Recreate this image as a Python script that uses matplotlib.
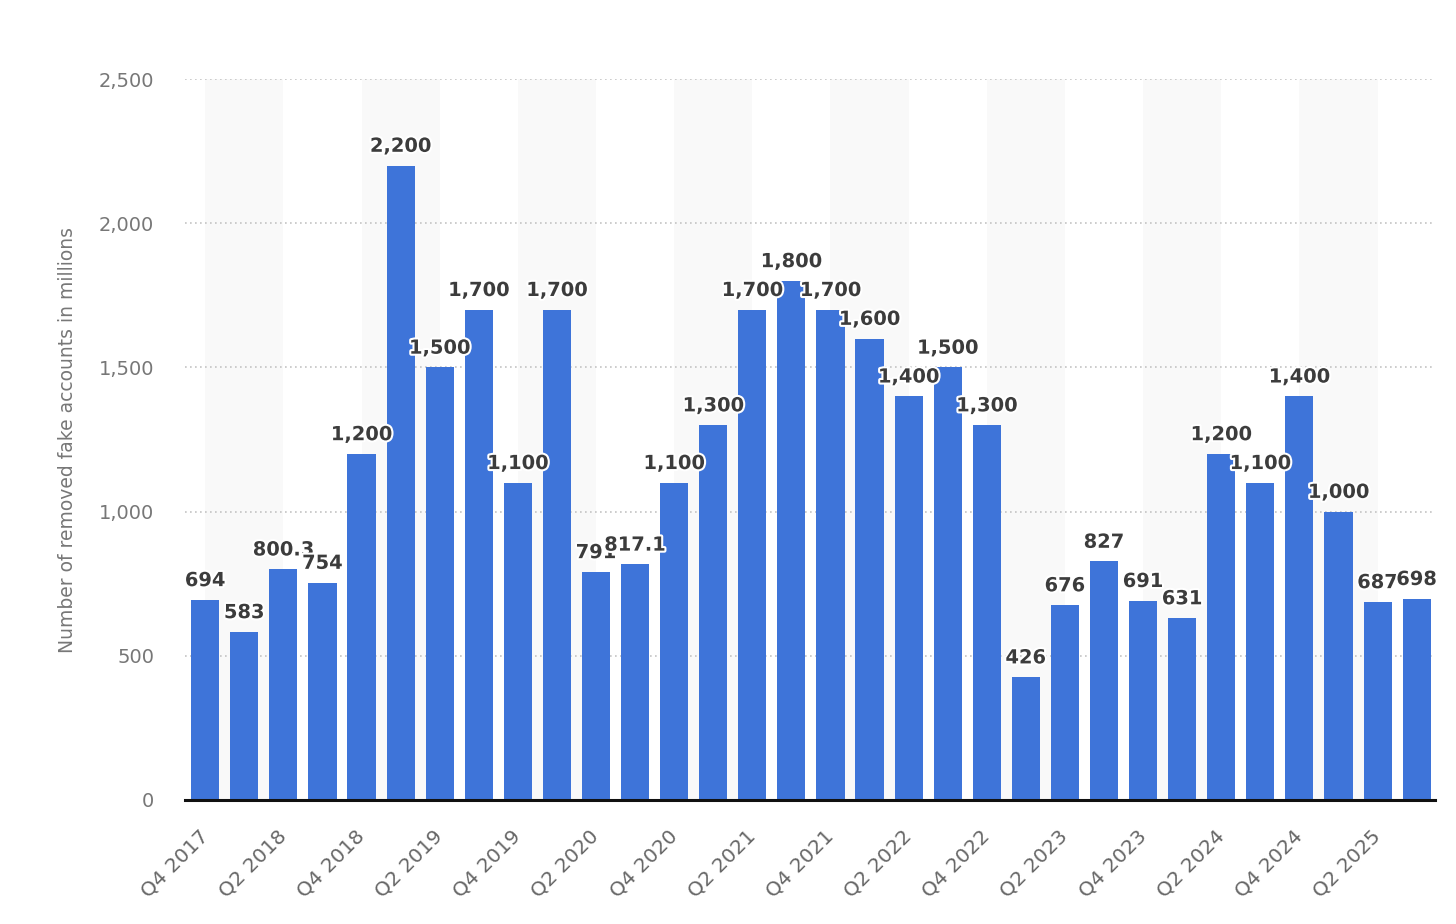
import matplotlib
matplotlib.use("Agg")
import matplotlib.pyplot as plt
import matplotlib.patheffects as pe

# Дані: квартали та кількість видалених фейкових акаунтів (млн).
quarters = [
    "Q4 2017", "Q1 2018", "Q2 2018", "Q3 2018", "Q4 2018", "Q1 2019", "Q2 2019", "Q3 2019",
    "Q4 2019", "Q1 2020", "Q2 2020", "Q3 2020", "Q4 2020", "Q1 2021", "Q2 2021", "Q3 2021",
    "Q4 2021", "Q1 2022", "Q2 2022", "Q3 2022", "Q4 2022", "Q1 2023", "Q2 2023", "Q3 2023",
    "Q4 2023", "Q1 2024", "Q2 2024", "Q3 2024", "Q4 2024", "Q1 2025", "Q2 2025", "Q3 2025",
]
values = [
    694, 583, 800.3, 754, 1200, 2200, 1500, 1700,
    1100, 1700, 791, 817.1, 1100, 1300, 1700, 1800,
    1700, 1600, 1400, 1500, 1300, 426, 676, 827,
    691, 631, 1200, 1100, 1400, 1000, 687, 698,
]
labels = [
    "694", "583", "800.3", "754", "1,200", "2,200", "1,500", "1,700",
    "1,100", "1,700", "791", "817.1", "1,100", "1,300", "1,700", "1,800",
    "1,700", "1,600", "1,400", "1,500", "1,300", "426", "676", "827",
    "691", "631", "1,200", "1,100", "1,400", "1,000", "687", "698",
]
y_ticks = [0, 500, 1000, 1500, 2000, 2500]

fig = plt.figure(figsize=(14.56, 9.24), dpi=100)
ax = fig.add_axes([0.127, 0.1342, 0.8586, 0.7803])

x = list(range(len(values)))

# Смуги фону через кожні дві позиції.
for start in range(0, len(values) - 1, 4):
    ax.axvspan(start, start + 2, color="#f9f9f9", zorder=0, lw=0)

ax.bar(x, values, width=0.72, color="#3e74d9", zorder=3)

for xi, v, lab in zip(x, values, labels):
    ax.annotate(lab, (xi, v), xytext=(0, 7), textcoords="offset points",
                ha="center", va="bottom", fontsize=14, fontweight="bold",
                color="#3c3c3c", zorder=5,
                path_effects=[pe.withStroke(linewidth=3, foreground="white")])

ax.set_xlim(-0.52, 31.47)
ax.set_ylim(0, 2500)
ax.set_yticks(y_ticks)
ax.set_yticklabels([f"{t:,}" for t in y_ticks])
ax.yaxis.grid(True, linestyle=(0, (1, 2)), color="#c4c4c4", linewidth=1.2, zorder=1)

ax.set_xticks(x[::2])
ax.set_xticklabels(quarters[::2])
plt.setp(ax.get_xticklabels(), rotation=45, ha="right", va="center",
         rotation_mode="anchor", fontsize=14.5, color="#666666")
ax.tick_params(axis="x", length=0, pad=24)
ax.tick_params(axis="y", length=0, pad=22, labelsize=14, labelcolor="#777777")

for side in ["top", "right", "left"]:
    ax.spines[side].set_visible(False)
ax.spines["bottom"].set_color("#111111")
ax.spines["bottom"].set_linewidth(2.2)
ax.spines["bottom"].set_zorder(4)

ax.set_ylabel("Number of removed fake accounts in millions", fontsize=13.5,
              color="#777777", labelpad=16)

fig.savefig("out.png", dpi=100, facecolor="white")
